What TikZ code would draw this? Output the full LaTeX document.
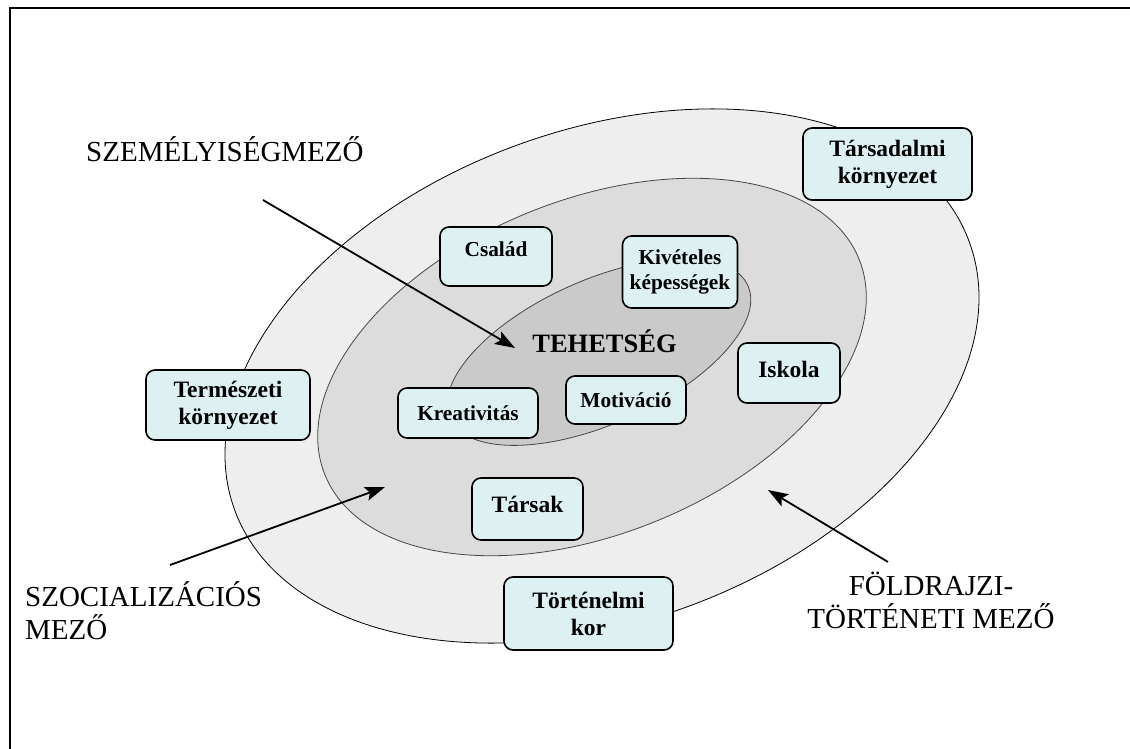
\documentclass[tikz,border=0pt]{standalone}
\usepackage{fontspec}
\setmainfont{Liberation Serif}
\usetikzlibrary{arrows.meta}
\definecolor{boxfill}{RGB}{221,241,242}
\definecolor{outerfill}{RGB}{238,238,238}
\definecolor{midfill}{RGB}{220,220,220}
\definecolor{innerfill}{RGB}{202,202,202}
\definecolor{ringdraw}{RGB}{70,70,70}
\begin{document}
\begin{tikzpicture}[x=1pt,y=-1pt,
  bigbox/.style={draw=black, line width=1.6pt, rounded corners=9pt, fill=boxfill,
    inner sep=0pt, align=center, font=\fontsize{23.5}{27}\selectfont\bfseries},
  smallbox/.style={bigbox, font=\fontsize{21.3}{24.5}\selectfont\bfseries},
  fieldlabel/.style={inner sep=0pt, font=\fontsize{29}{33}\selectfont},
  pointer/.style={line width=1.8pt, -{Stealth[length=20pt,width=14pt,inset=4pt]}},
  ring/.style={draw=ringdraw, line width=0.8pt}]
\useasboundingbox (0,0) rectangle (1130,749);
\fill[white] (0,0) rectangle (1130,749);
% frame
\draw[line width=1.3pt] (10,749) -- (10,8) -- (1130,8);
% fields
\draw[ring, draw=black, fill=outerfill, rotate around={20:(602,376)}] (602,376) ellipse [x radius=391, y radius=246];
\draw[ring, fill=midfill, rotate around={22:(592,367)}] (592,367) ellipse [x radius=288, y radius=167];
\draw[ring, fill=innerfill, rotate around={24:(599,352)}] (599,352) ellipse [x radius=163, y radius=72];
% labels
\node[fieldlabel, anchor=base west] (szem) at (86,162) {SZEMÉLYISÉGMEZŐ};
\node[fieldlabel, anchor=base west, align=left] (szoc) at (25,639) {SZOCIALIZÁCIÓS\\MEZŐ};
\node[fieldlabel, anchor=base, align=center] (fold) at (931,628) {FÖLDRAJZI-\\TÖRTÉNETI MEZŐ};
\node[inner sep=0pt, anchor=base, font=\fontsize{26.5}{30}\selectfont\bfseries] (teh) at (604.5,352) {TEHETSÉG};
% arrows
\coordinate (szemstart) at (263,200);
\coordinate (szemend) at (515,348);
\coordinate (szocstart) at (170,565);
\coordinate (szocend) at (385,487);
\coordinate (foldstart) at (888,562);
\coordinate (foldend) at (768,490);
\draw[pointer] (szemstart) -- (szemend);
\draw[pointer] (szocstart) -- (szocend);
\draw[pointer] (foldstart) -- (foldend);
% boxes
\node[bigbox, minimum width=169pt, minimum height=72pt] (tars) at (887.5,164) {Társadalmi\\környezet};
\node[smallbox, minimum width=112pt, minimum height=59pt, text depth=14pt] (csal) at (496,256.5) {Család};
\node[smallbox, minimum width=115pt, minimum height=72pt] (kiv) at (680,272) {Kivételes\\képességek};
\node[bigbox, minimum width=102pt, minimum height=60pt, text depth=8pt] (isk) at (789,373) {Iskola};
\node[smallbox, minimum width=120pt, minimum height=48pt] (mot) at (626,400) {Motiváció};
\node[smallbox, minimum width=140pt, minimum height=50pt] (kre) at (468,413) {Kreativitás};
\node[bigbox, minimum width=164pt, minimum height=70pt] (term) at (228,405) {Természeti\\környezet};
\node[bigbox, minimum width=111pt, minimum height=62pt, text depth=9pt] (tarsak) at (527.5,509) {Társak};
\node[bigbox, minimum width=169pt, minimum height=73pt] (tort) at (588.5,613.5) {Történelmi\\kor};
\end{tikzpicture}
\end{document}
